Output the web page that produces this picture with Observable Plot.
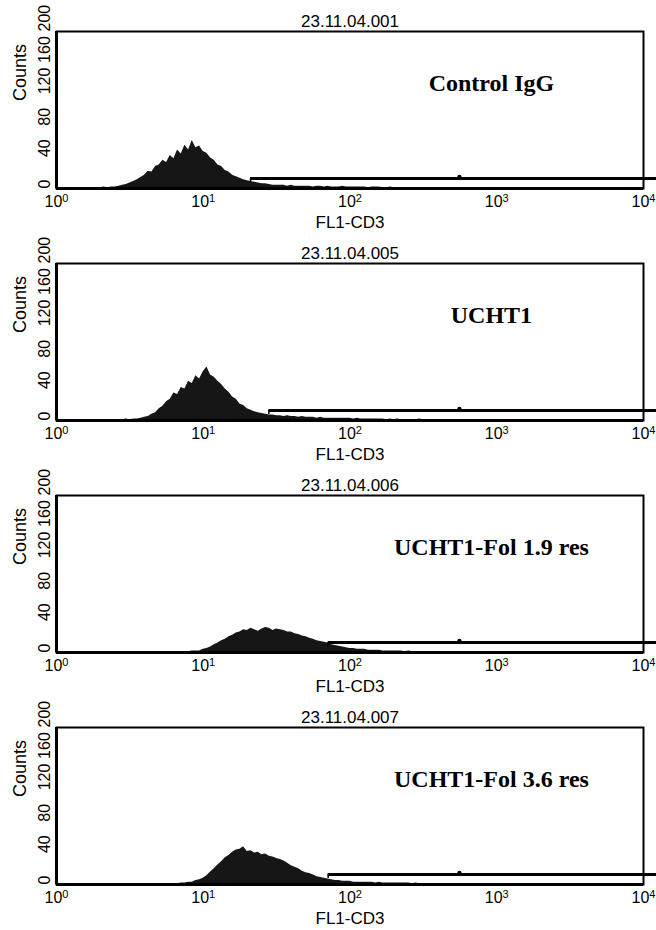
<!DOCTYPE html>
<html><head><meta charset="utf-8">
<script src="https://cdn.jsdelivr.net/npm/d3@7"></script>
<script src="https://cdn.jsdelivr.net/npm/@observablehq/plot@0.6"></script>
<style>
body{margin:0;background:#fff;}
#chart{width:656px;}
#chart svg{display:block;}
</style></head><body><div id="chart"></div>
<script>
// channel bin width in decades (log10 units); bin i sits at 10^(i*binWidthLog)
const binWidthLog = 0.025;

const countsControl = [1,1,0,1,1,1,0,1,1,1,1,1,
 1,2,1,2,2,3,4,5,7,9,11,14,
 17,22,21,28,30,36,33,42,38,49,44,55,
 49,61,52,54,47,45,39,36,30,28,23,21,
 17,15,13,11,10,9,8,7,6,6,5,4,
 4,4,4,3,4,3,3,3,3,3,2,3,
 3,2,3,2,2,2,3,2,2,2,2,2,
 2,1,2,2,2,1,1,2,1,1,1,1,
 1,1,1,1,1,1,0,1,1,0,1,0,
 1,0,0,1,0,0,0,0,0,0,0,0,0];

const countsUCHT1 = [1,0,1,1,0,1,1,1,0,1,1,1,
 1,1,1,1,1,1,1,2,1,2,2,3,
 4,5,8,10,15,18,24,27,35,33,42,40,
 50,47,57,53,62,68,58,55,50,46,40,36,
 30,27,21,19,15,13,11,10,9,8,7,7,
 6,6,5,6,5,5,4,5,4,4,4,3,
 4,3,3,3,3,3,3,3,3,2,3,2,
 2,2,2,2,2,2,1,2,1,2,1,1,
 1,1,1,2,1,1,1,1,1,0,1,1,
 0,1,0,0,1,0,0,0,0,0,0,0,0];

const countsFol19 = [0,1,0,1,1,0,1,1,0,1,1,1,
 1,0,1,1,1,1,1,1,1,1,1,1,
 1,1,1,1,1,1,1,1,1,1,1,1,
 1,2,2,2,4,5,7,10,12,15,17,20,
 22,25,26,29,28,31,29,27,30,32,31,28,
 30,29,28,26,26,24,23,21,20,18,17,15,
 14,13,12,10,9,8,7,6,5,5,4,4,
 4,3,3,3,3,2,2,2,2,2,2,1,
 2,1,1,1,1,1,1,1,1,0,1,1,
 0,1,0,1,0,0,1,0,0,0,0,0,0];

const countsFol36 = [1,0,1,1,1,0,1,1,1,0,1,1,
 1,1,1,1,1,1,1,1,1,1,1,1,
 1,1,1,1,1,1,1,1,1,1,2,2,
 3,3,5,6,8,11,16,20,25,29,34,37,
 41,44,45,48,42,43,40,41,38,39,36,35,
 33,32,30,27,24,22,20,17,15,14,12,10,
 9,8,7,6,5,5,4,4,4,3,3,3,
 3,3,3,2,3,2,2,2,2,2,2,2,
 2,1,2,1,1,1,1,1,1,1,1,0,
 1,0,1,0,0,1,0,0,0,0,0,0,0];

const panelIds = ["23.11.04.001", "23.11.04.005", "23.11.04.006", "23.11.04.007"];
const panelLabels = ["Control IgG", "UCHT1", "UCHT1-Fol 1.9 res", "UCHT1-Fol 3.6 res"];
const gateStart = [21, 28, 71, 71];
const gateEnd = 12270;
const gateLevel = 12.7;
const gateMarker = 557;
const labelX = 920;
const yTicks = [0, 40, 80, 120, 160, 200];
const xTicks = [1, 10, 100, 1000, 10000];
const xExponents = [0, 1, 2, 3, 4];
const xLabel = "FL1-CD3";
const yLabel = "Counts";
const panelHeights = [232, 232, 232, 234];

const allCounts = [countsControl, countsUCHT1, countsFol19, countsFol36];
const sans = "'Liberation Sans', Arial, sans-serif";
const serif = "'Liberation Serif', 'Times New Roman', serif";
const root = document.getElementById("chart");
const SUP = "\u00a7"; // marker for log-axis labels to be rewritten as 10^k

allCounts.forEach((counts, p) => {
  const hist = counts.map((c, i) => ({x: Math.pow(10, i * binWidthLog), y: c}));
  const H = panelHeights[p];
  const chart = Plot.plot({
    width: 656,
    height: H,
    marginTop: 31,
    marginBottom: H - 188,
    marginLeft: 56,
    marginRight: 13,
    style: {fontFamily: sans, fontSize: "16px", background: "white", color: "black", overflow: "visible"},
    x: {type: "log", domain: [1, 10000], axis: null},
    y: {domain: [0, 200], axis: null},
    marks: [
      Plot.areaY(hist, {x: "x", y: "y", fill: "#161616", curve: "linear"}),
      Plot.frame({stroke: "black", strokeWidth: 2}),
      Plot.ruleX([1], {stroke: "black", strokeWidth: 3}),
      Plot.ruleY([0], {stroke: "black", strokeWidth: 3}),
      Plot.ruleY([{x1: gateStart[p], x2: gateEnd, y: gateLevel}], {x1: "x1", x2: "x2", y: "y", stroke: "black", strokeWidth: 3}),
      Plot.ruleX([gateStart[p]], {x: d => d, y1: gateLevel, y2: gateLevel - 5, stroke: "black", strokeWidth: 1.5}),
      Plot.dot([gateMarker], {x: d => d, y: gateLevel, r: 2.2, fill: "black", dy: -1.5}),
      Plot.text(yTicks, {y: d => d, frameAnchor: "left", lineAnchor: "middle", dx: -12, rotate: -90, text: d => String(d), fontSize: 16}),
      Plot.text([yLabel], {frameAnchor: "left", lineAnchor: "middle", dx: -36, dy: -9, rotate: -90, text: d => d, fontSize: 18}),
      Plot.text(xTicks, {x: d => d, frameAnchor: "bottom", lineAnchor: "middle", dy: 13, text: (d, i) => SUP + xExponents[i], fontSize: 16}),
      Plot.text([xLabel], {frameAnchor: "bottom", lineAnchor: "middle", dy: 34, text: d => d, fontSize: 17}),
      Plot.text([panelIds[p]], {frameAnchor: "top", lineAnchor: "middle", dy: -10, text: d => d, fontSize: 17}),
      Plot.text([panelLabels[p]], {x: labelX, frameAnchor: "top", lineAnchor: "middle", dy: 52, text: d => d, fontFamily: serif, fontWeight: "bold", fontSize: 24})
    ]
  });
  // superscript exponents on the log-axis labels: 10^k
  chart.querySelectorAll("text").forEach(t => {
    const s = t.textContent;
    if (!s.startsWith(SUP)) return;
    const k = s.slice(1);
    t.textContent = "";
    const base = document.createElementNS("http://www.w3.org/2000/svg", "tspan");
    base.textContent = "10";
    const sup = document.createElementNS("http://www.w3.org/2000/svg", "tspan");
    sup.textContent = k;
    sup.setAttribute("dy", "-5");
    sup.setAttribute("font-size", "11");
    t.appendChild(base);
    t.appendChild(sup);
  });
  root.appendChild(chart);
});
</script>
</body></html>
